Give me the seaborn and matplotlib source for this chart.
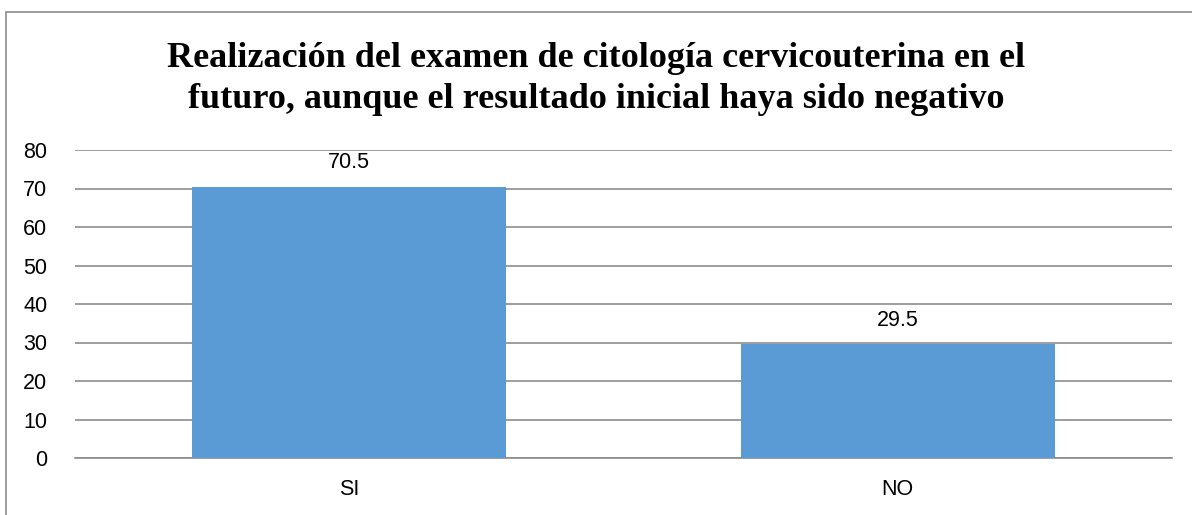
import matplotlib
matplotlib.use('Agg')
import matplotlib.pyplot as plt
import seaborn as sns
import pandas as pd
from matplotlib.patches import Rectangle

categories = ['SI', 'NO']
values = [70.5, 29.5]
title = 'Realización del examen de citología cervicouterina en el\nfuturo, aunque el resultado inicial haya sido negativo'

df = pd.DataFrame({'cat': categories, 'val': values})

sns.set_style('white')
plt.rcParams['font.family'] = ['Liberation Sans', 'DejaVu Sans']
plt.rcParams['text.color'] = 'black'

W, H = 1192, 515
fig = plt.figure(figsize=(W / 100, H / 100), dpi=100)
ax = fig.add_axes([75 / W, (H - 458) / H, (1172 - 75) / W, (458 - 150) / H])

sns.barplot(data=df, x='cat', y='val', color='#5B9BD5', saturation=1, width=0.573,
            linewidth=0, ax=ax, zorder=3)

ax.set_ylim(0, 80)
ax.set_yticks(range(0, 81, 10))
ax.yaxis.grid(True, color='#8c8c8c', lw=1.2, zorder=0)
ax.set_axisbelow(True)
for s in ['top', 'right', 'left']:
    ax.spines[s].set_visible(False)
ax.spines['bottom'].set_color('#8c8c8c')
ax.spines['bottom'].set_linewidth(1.2)
ax.tick_params(axis='both', length=0, labelsize=15.5, labelcolor='black')
ax.tick_params(axis='y', pad=20)
ax.tick_params(axis='x', pad=15)
ax.set_xlabel('')
ax.set_ylabel('')

for p, v in zip(ax.patches, values):
    ax.annotate(str(v), (p.get_x() + p.get_width() / 2, v), xytext=(0, 10),
                textcoords='offset points', ha='center', va='bottom', fontsize=15.5,
                color='black')

fig.text(0.5, (H - 79) / H, title, ha='center', va='center', fontsize=26, color='black',
         fontweight='bold', family=['Liberation Serif', 'DejaVu Serif'], linespacing=1.35)

fig.patches.append(Rectangle((6 / W, -0.1), 1.2, (H - 12) / H + 0.1, transform=fig.transFigure,
                             fill=False, edgecolor='#8c8c8c', lw=1.2))

fig.savefig('out.png', dpi=100)
